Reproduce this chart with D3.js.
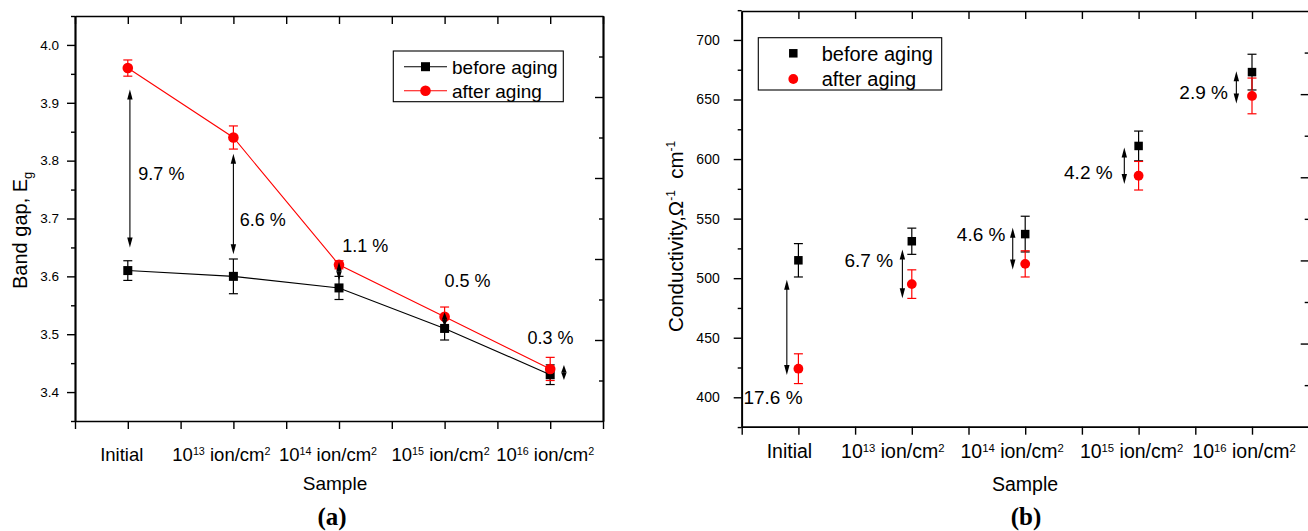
<!DOCTYPE html>
<html><head><meta charset="utf-8">
<script src="https://cdn.jsdelivr.net/npm/d3@7"></script>
<style>
body{margin:0;background:#fff}
svg{display:block}
text{font-family:"Liberation Sans",Arial,sans-serif;fill:#000}
</style>
</head><body>
<svg id="c" width="1308" height="531"></svg>
<script>
// ---------------- data ----------------
const categories = ["Initial", "10^13 ion/cm^2", "10^14 ion/cm^2", "10^15 ion/cm^2", "10^16 ion/cm^2"];
const catBase = ["Initial", "10", "10", "10", "10"];
const catExp  = [null, "13", "14", "15", "16"];
const seriesNames = ["before aging", "after aging"];

const bandBefore    = [3.61, 3.60, 3.58, 3.51, 3.43];
const bandBeforeErr = [0.017, 0.030, 0.020, 0.020, 0.017];
const bandAfter     = [3.96, 3.84, 3.62, 3.53, 3.44];
const bandAfterErr  = [0.014, 0.020, 0.007, 0.017, 0.020];
const bandPct       = ["9.7 %", "6.6 %", "1.1 %", "0.5 %", "0.3 %"];
const bandYTicks    = [3.4, 3.5, 3.6, 3.7, 3.8, 3.9, 4.0];

const condBefore    = [515, 531, 537, 611, 673];
const condBeforeErr = [14, 11, 15, 12.5, 15];
const condAfter     = [424, 495, 512, 586, 653];
const condAfterErr  = [12.5, 12, 11, 12, 15];
const condPct       = ["17.6 %", "6.7 %", "4.6 %", "4.2 %", "2.9 %"];
const condYTicks    = [400, 450, 500, 550, 600, 650, 700];

// ---------------- drawing ----------------
const svg = d3.select("#c");
const RED = "#ff0000";

function drawPanel(cfg) {
  const g = svg.append("g");
  const x = d3.scaleLinear().domain([0.5, 5.5]).range([cfg.left, cfg.right]);
  const y = d3.scaleLinear().domain(cfg.yDomain).range([cfg.bottom, cfg.top]);
  const yR = d3.scaleLinear().domain([0, 10]).range([cfg.bottom, cfg.top]);
  const xTicks = d3.range(0.5, 5.51, 0.5);

  function styleAxis(sel) {
    sel.select(".domain").attr("stroke", "#000").attr("stroke-width", 1.7);
    sel.selectAll(".tick line").attr("stroke", "#000").attr("stroke-width", 1.4);
    sel.selectAll(".tick text").attr("font-size", cfg.yFont).attr("font-family", '"Liberation Sans",Arial,sans-serif');
  }
  // axes
  g.append("g").attr("transform", `translate(0,${cfg.bottom})`)
    .call(d3.axisBottom(x).tickValues(xTicks).tickSize(8).tickSizeOuter(0).tickFormat(""))
    .call(styleAxis);
  g.append("g").attr("transform", `translate(0,${cfg.top})`)
    .call(d3.axisTop(x).tickValues(xTicks).tickSize(-8).tickSizeOuter(0).tickFormat(""))
    .call(styleAxis);
  g.append("g").attr("transform", `translate(${cfg.left},0)`)
    .call(d3.axisLeft(y).tickValues(cfg.yMinor).tickSize(4).tickSizeOuter(0).tickFormat(""))
    .call(styleAxis);
  g.append("g").attr("transform", `translate(${cfg.left},0)`)
    .call(d3.axisLeft(y).tickValues(cfg.yTicks).tickSize(8).tickPadding(cfg.yPad).tickSizeOuter(0).tickFormat(cfg.yFmt))
    .call(styleAxis);
  g.append("g").attr("transform", `translate(${cfg.right},0)`)
    .call(d3.axisRight(yR).tickValues([1, 3, 5, 7, 9]).tickSize(-4).tickSizeOuter(0).tickFormat(""))
    .call(styleAxis);
  g.append("g").attr("transform", `translate(${cfg.right},0)`)
    .call(d3.axisRight(yR).tickValues([2, 4, 6, 8]).tickSize(-8).tickSizeOuter(0).tickFormat(""))
    .call(styleAxis);

  // category labels
  catBase.forEach((b, i) => {
    const t = g.append("text")
      .attr("x", x(i + 1) + cfg.labelShift[i])
      .attr("y", cfg.labelY)
      .attr("text-anchor", "middle")
      .attr("font-size", cfg.xFont);
    t.append("tspan").text(b);
    if (catExp[i]) {
      t.append("tspan").attr("font-size", cfg.xFont * 0.58).attr("dy", -6.5).text(catExp[i]);
      t.append("tspan").attr("dy", 6.5).text("\u00A0ion/cm");
      t.append("tspan").attr("font-size", cfg.xFont * 0.58).attr("dy", -6.5).text("2");
    }
  });

  // axis title x
  g.append("text").attr("x", cfg.sampleX).attr("y", cfg.sampleY)
    .attr("text-anchor", "middle").attr("font-size", cfg.titleFont).text("Sample");
  // panel tag
  g.append("text").attr("x", cfg.tagX).attr("y", 525)
    .attr("text-anchor", "middle").attr("font-size", 25).attr("font-weight", "bold")
    .style("font-family", '"Liberation Serif","Times New Roman",serif').text(cfg.tag);

  // y title
  cfg.yTitle(g);

  const before = cfg.before, after = cfg.after;
  const line = d3.line().x((d, i) => x(i + 1)).y(d => y(d));
  if (cfg.lines) {
    g.append("path").attr("d", line(before)).attr("fill", "none").attr("stroke", "#000").attr("stroke-width", 1.1);
    g.append("path").attr("d", line(after)).attr("fill", "none").attr("stroke", RED).attr("stroke-width", 1.1);
  }

  function errorBars(vals, errs, color) {
    vals.forEach((v, i) => {
      const cx = x(i + 1), y1 = y(v - errs[i]), y2 = y(v + errs[i]);
      const eg = g.append("g").attr("stroke", color).attr("stroke-width", 1.2);
      eg.append("line").attr("x1", cx).attr("x2", cx).attr("y1", y1).attr("y2", y2);
      eg.append("line").attr("x1", cx - 4.5).attr("x2", cx + 4.5).attr("y1", y1).attr("y2", y1);
      eg.append("line").attr("x1", cx - 4.5).attr("x2", cx + 4.5).attr("y1", y2).attr("y2", y2);
    });
  }
  errorBars(before, cfg.beforeErr, "#000");
  errorBars(after, cfg.afterErr, RED);

  g.selectAll(null).data(before).enter().append("rect")
    .attr("x", (d, i) => x(i + 1) - cfg.sq / 2).attr("y", d => y(d) - cfg.sq / 2)
    .attr("width", cfg.sq).attr("height", cfg.sq).attr("fill", "#000");
  g.selectAll(null).data(after).enter().append("circle")
    .attr("cx", (d, i) => x(i + 1)).attr("cy", d => y(d)).attr("r", cfg.cr).attr("fill", RED);

  // double arrows
  function dblArrow(xv, yv1, yv2) {
    const ax = x(xv), ya = y(yv1), yb = y(yv2);
    const top = Math.min(ya, yb), bot = Math.max(ya, yb);
    const L = bot - top;
    const hl = Math.min(10, L / 2), hw = Math.min(2.7, hl * 0.45 + 0.5);
    g.append("line").attr("x1", ax).attr("x2", ax).attr("y1", top + hl * 0.6).attr("y2", bot - hl * 0.6)
      .attr("stroke", "#000").attr("stroke-width", 1.1);
    g.append("path").attr("d", `M${ax},${top}L${ax - hw},${top + hl}L${ax + hw},${top + hl}Z`).attr("fill", "#000");
    g.append("path").attr("d", `M${ax},${bot}L${ax - hw},${bot - hl}L${ax + hw},${bot - hl}Z`).attr("fill", "#000");
  }
  cfg.arrows.forEach(a => dblArrow(a[0], a[1], a[2]));

  // percentage labels
  cfg.pct.forEach((p, i) => {
    const a = cfg.pctPos[i];
    g.append("text").attr("x", x(a[0])).attr("y", y(a[1])).attr("dy", "0.36em")
      .attr("text-anchor", a[2]).attr("font-size", cfg.pctFont).text(p);
  });

  // legend
  const L = cfg.legend;
  g.append("rect").attr("x", L.x).attr("y", L.y).attr("width", L.w).attr("height", L.h)
    .attr("fill", "#fff").attr("stroke", "#000").attr("stroke-width", 1.1);
  seriesNames.forEach((name, i) => {
    const ry = L.rows[i];
    const col = i === 0 ? "#000" : RED;
    if (cfg.lines) {
      g.append("line").attr("x1", L.lx1).attr("x2", L.lx2).attr("y1", ry).attr("y2", ry)
        .attr("stroke", col).attr("stroke-width", 1.1);
    }
    if (i === 0) {
      g.append("rect").attr("x", L.mx - cfg.sq / 2).attr("y", ry - cfg.sq / 2)
        .attr("width", cfg.sq).attr("height", cfg.sq).attr("fill", col);
    } else {
      g.append("circle").attr("cx", L.mx).attr("cy", ry).attr("r", cfg.cr).attr("fill", col);
    }
    g.append("text").attr("x", L.tx).attr("y", ry).attr("dy", "0.36em")
      .attr("font-size", L.font).text(name);
  });
}

// Panel (a)
drawPanel({
  left: 75, right: 603, top: 16, bottom: 421,
  yDomain: [3.35, 4.05], yTicks: bandYTicks, yMinor: d3.range(3.35, 4.06, 0.1),
  yFmt: d3.format(".1f"), yPad: 8, yFont: 13.5,
  xFont: 18.5, labelY: 461, labelShift: [-6, -12, -11, -4, -5],
  titleFont: 19, sampleX: 335, sampleY: 490, tag: "(a)", tagX: 332,
  before: bandBefore, beforeErr: bandBeforeErr, after: bandAfter, afterErr: bandAfterErr,
  lines: true, sq: 9, cr: 5.3,
  arrows: [[1.02, 3.923, 3.650], [2.0, 3.812, 3.638], [3.0, 3.625, 3.593], [4.0, 3.538, 3.513], [5.13, 3.447, 3.421]],
  pct: bandPct, pctFont: 18,
  pctPos: [[1.10, 3.7775, "start"], [2.06, 3.698, "start"], [3.03, 3.653, "start"], [4.0, 3.593, "start"], [4.785, 3.494, "start"]],
  legend: {x: 393.3, y: 51, w: 170, h: 50.7, rows: [66.7, 90.7], lx1: 404, lx2: 447, mx: 425.5, tx: 452, font: 19},
  yTitle: g => {
    const t = g.append("text").attr("transform", "translate(27,289) rotate(-90)")
      .attr("font-size", 20).attr("text-anchor", "start");
    t.append("tspan").text("Band gap, E");
    t.append("tspan").attr("font-size", 13).attr("dy", 5).text("g");
  }
});

// Panel (b)
drawPanel({
  left: 741.7, right: 1308.7, top: 11, bottom: 426.7,
  yDomain: [375.3, 724.3], yTicks: condYTicks, yMinor: d3.range(375, 726, 50),
  yFmt: d3.format("d"), yPad: 14, yFont: 14,
  xFont: 19.5, labelY: 458, labelShift: [-9, -19, -13, -7, -8],
  titleFont: 19.5, sampleX: 1025, sampleY: 491, tag: "(b)", tagX: 1026,
  before: condBefore, beforeErr: condBeforeErr, after: condAfter, afterErr: condAfterErr,
  lines: false, sq: 8.5, cr: 4.9,
  arrows: [[0.898, 498.6, 418.7], [1.917, 524, 483.2], [2.89, 542.3, 507.3], [3.874, 609.7, 579], [4.862, 673.8, 646.6]],
  pct: condPct, pctFont: 19,
  pctPos: [[0.515, 400.3, "start"], [1.835, 515.4, "end"], [2.826, 536.6, "end"], [3.771, 589.1, "end"], [4.788, 656.4, "end"]],
  legend: {x: 758.3, y: 37.7, w: 183.4, h: 52.3, rows: [53.3, 79], lx1: 0, lx2: 0, mx: 793.3, tx: 821.7, font: 20},
  yTitle: g => {
    const t = g.append("text").attr("transform", "translate(683,332) rotate(-90)")
      .attr("font-size", 20.5).attr("text-anchor", "start");
    t.append("tspan").text("Conductivity,\u03A9");
    t.append("tspan").attr("font-size", 12).attr("dy", -8).text("-1");
    t.append("tspan").attr("dy", 8).text("\u00A0\u00A0cm");
    t.append("tspan").attr("font-size", 12).attr("dy", -8).text("-1");
  }
});
</script>
</body></html>
